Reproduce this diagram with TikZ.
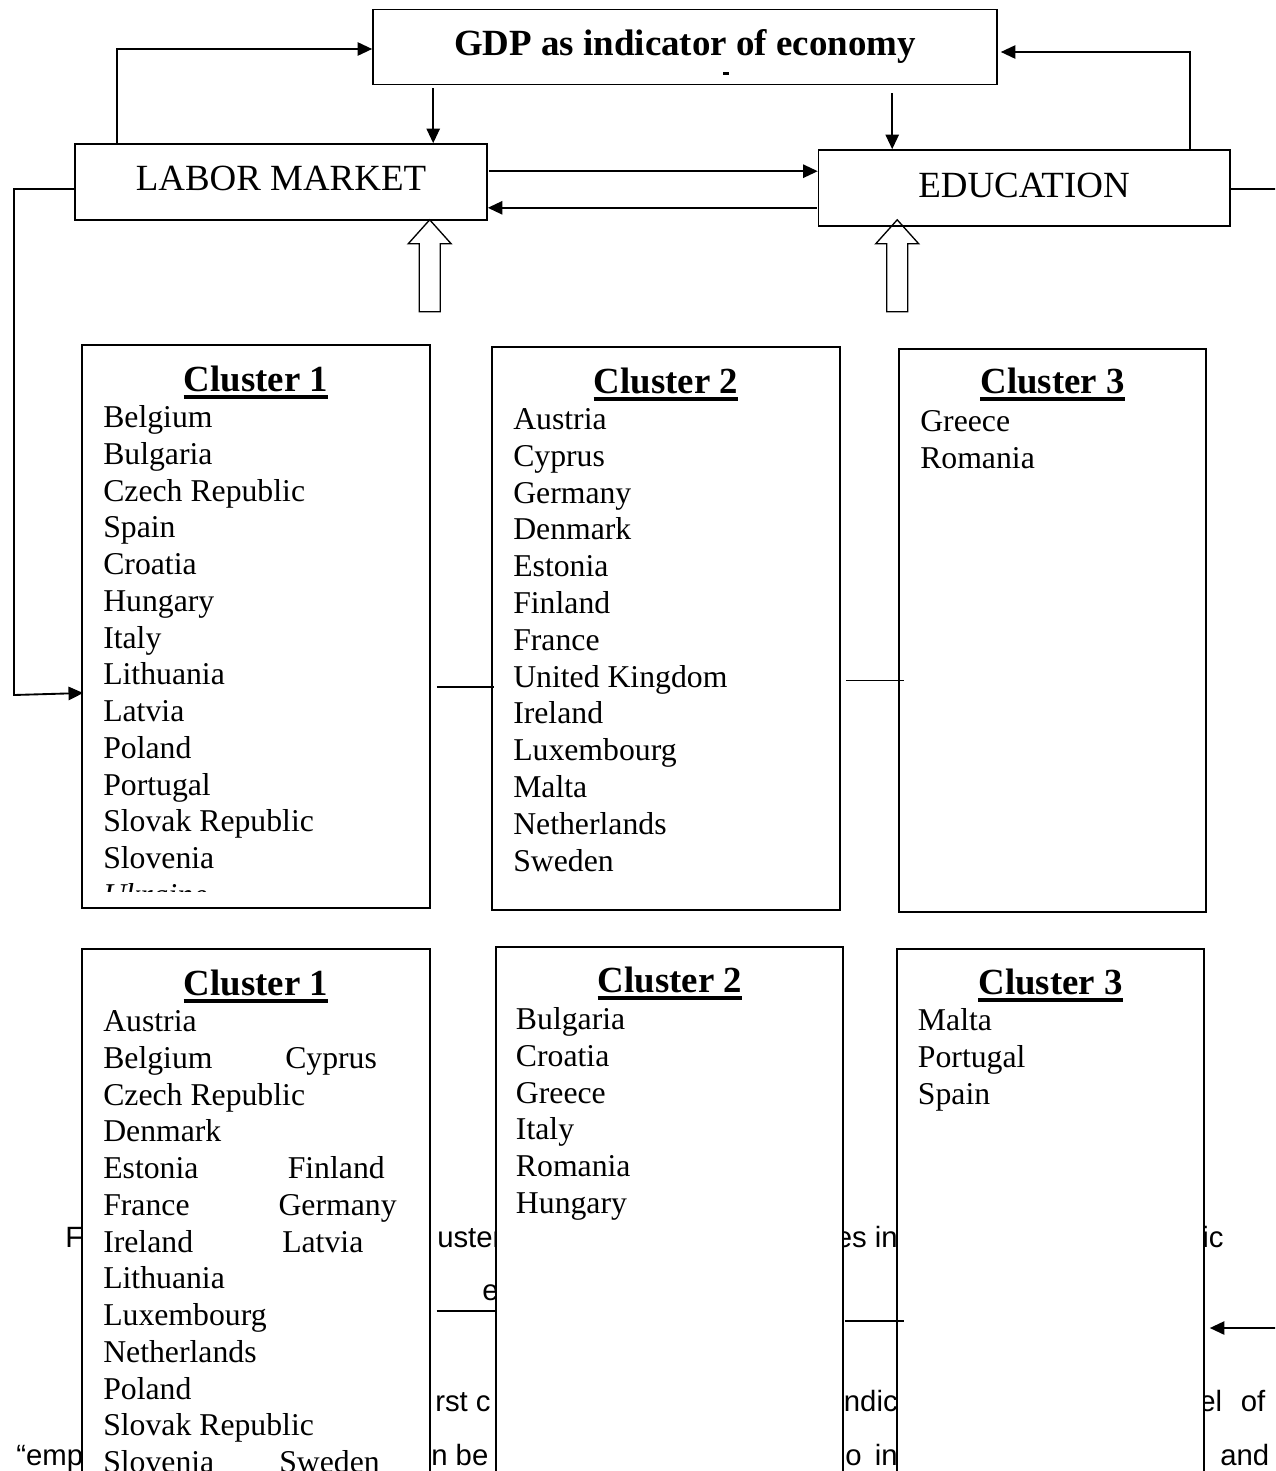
\documentclass[tikz,border=0pt]{standalone}
\usepackage{fontspec}
\setmainfont{Liberation Serif}
\newfontfamily\bodysans{Liberation Sans}
\usetikzlibrary{arrows.meta,calc}
\begin{document}
\begin{tikzpicture}[x=0.75pt,y=-0.75pt,
  boxframe/.style={draw,line width=1.2pt,fill=white,inner sep=0pt},
  conn/.style={line width=1.4pt},
  arr/.style={conn,-{Triangle[length=11pt,width=10pt]}},
  item/.style={anchor=base west,inner sep=0pt,font=\fontsize{23.8}{28}\selectfont},
  ctitle/.style={anchor=base,inner sep=0pt,font=\fontsize{27.6}{32}\selectfont\bfseries},
  boxtext/.style={anchor=base,inner sep=0pt,font=\fontsize{27.7}{32}\selectfont},
  frag/.style={inner sep=0pt,font=\bodysans\fontsize{22}{26}\selectfont},
  uline/.style={line width=2.5pt},
  hollow/.style={draw,line width=1pt,line join=miter}]
\useasboundingbox (0,0) rectangle (1275,1471);
\clip (0,0) rectangle (1275,1471);

% background paragraph fragments (partly covered by the boxes)
\node[frag,anchor=base west] (f1) at (65,1247) {F};
\node[frag,anchor=base west] (f2) at (437,1247) {uster};
\node[frag,anchor=base east] (f3) at (898,1247) {es in};
\node[frag,anchor=base west] (f4) at (1202,1247) {ic};
\node[frag,anchor=base west] (f5) at (482,1300) {e};
\node[frag,anchor=base west] (f6) at (435,1411) {rst c};
\node[frag,anchor=base east] (f7) at (898,1411) {ndic};
\node[frag,anchor=base west] (f8) at (1199,1411) {el\hspace{14pt}of};
\node[frag,anchor=base west] (f9) at (16,1465) {“emp};
\node[frag,anchor=base west] (f10) at (431,1465) {n be};
\node[frag,anchor=base east] (f11) at (898,1465) {o\hspace{10pt}in};
\node[frag,anchor=base west] (f12) at (1220,1465) {and};

% top boxes
\node[boxframe,minimum width=468pt,minimum height=56.25pt] (gdp) at (685,47) {};
\node[boxframe,minimum width=309pt,minimum height=57pt] (lab) at (281,182) {};
\node[boxframe,minimum width=308.6pt,minimum height=57pt] (edu) at (1024.25,188) {};
\node[boxtext,font=\fontsize{27.7}{32}\selectfont\bfseries] (gdptxt) at (685,55) {GDP as indicator of economy};
\node[boxtext] (labtxt) at (281,190) {LABOR MARKET};
\node[boxtext] (edutxt) at (1024,197) {EDUCATION};
\fill (723,72) rectangle (729,75);

% cluster boxes
\node[boxframe,minimum width=261pt,minimum height=422.25pt] (c1a) at (256,626.5) {};
\node[boxframe,minimum width=261pt,minimum height=422.25pt] (c2a) at (666,628.5) {};
\node[boxframe,minimum width=230.25pt,minimum height=422.25pt] (c3a) at (1052.5,630.5) {};
\node[boxframe,minimum width=261pt,minimum height=428.25pt] (c1b) at (256.25,1234.5) {};
\node[boxframe,minimum width=260.25pt,minimum height=429.75pt] (c2b) at (669.5,1233.5) {};
\node[boxframe,minimum width=230.25pt,minimum height=428.25pt] (c3b) at (1050.5,1234.5) {};

% titles
\node[ctitle] (c1at) at (256,391) {Cluster 1};
\node[ctitle] (c2at) at (666,393) {Cluster 2};
\node[ctitle] (c3at) at (1052.5,393) {Cluster 3};
\node[ctitle] (c1bt) at (256,995) {Cluster 1};
\node[ctitle] (c2bt) at (670,992) {Cluster 2};
\node[ctitle] (c3bt) at (1050.7,994) {Cluster 3};
\foreach \t in {c1at,c2at,c3at,c1bt,c2bt,c3bt}
  \draw[uline] ($(\t.base west)+(0,6)$) -- ($(\t.base east)+(0,6)$);

% top row lists
\foreach \n [count=\i from 0] in {Belgium,Bulgaria,Czech Republic,Spain,Croatia,Hungary,Italy,Lithuania,Latvia,Poland,Portugal,Slovak Republic,Slovenia}
  \node[item] (ia\i) at (103,{427.5+36.75*\i}) {\n};
\begin{scope}
  \clip (83,800) rectangle (429,891);
  \node[item] (iaU) at (103,905.5) {\itshape Ukraine};
\end{scope}
\foreach \n [count=\i from 0] in {Austria,Cyprus,Germany,Denmark,Estonia,Finland,France,United Kingdom,Ireland,Luxembourg,Malta,Netherlands,Sweden}
  \node[item] (ib\i) at (513,{429.5+36.8*\i}) {\n};
\node[item] (ic0) at (920,431) {Greece};
\node[item] (ic1) at (920,468.5) {Romania};

% bottom row lists
\foreach \n [count=\i from 0] in {Austria,Belgium,Czech Republic,Denmark,Estonia,France,Ireland,Lithuania,Luxembourg,Netherlands,Poland,Slovak Republic,Slovenia}
  \node[item] (ja\i) at (103,{1031.5+36.75*\i}) {\n};
\node[item] (jaR1) at (285,1068.25) {Cyprus};
\node[item] (jaR4) at (287.5,1178.5) {Finland};
\node[item] (jaR5) at (278.3,1215.25) {Germany};
\node[item] (jaR6) at (282,1252) {Latvia};
\node[item] (jaR12) at (279,1472.5) {Sweden};
\foreach \n [count=\i from 0] in {Bulgaria,Croatia,Greece,Italy,Romania,Hungary}
  \node[item] (jb\i) at (515.7,{1029.5+36.8*\i}) {\n};
\node[item] (jc0) at (917.7,1030.5) {Malta};
\node[item] (jc1) at (917.7,1067.5) {Portugal};
\node[item] (jc2) at (917.7,1104.5) {Spain};

% connectors between top boxes
\draw[arr] ($(lab.north west)+(43,0)$) |- ($(gdp.west)+(0,2)$);
\coordinate (g1) at ($(gdp.south west)+(61,3)$);
\draw[arr] (g1) -- (g1 |- lab.north);
\coordinate (g2) at ($(gdp.south west)+(520,8)$);
\draw[arr] (g2) -- (g2 |- edu.north);
\coordinate (l1) at ($(lab.north east)+(1.5,28)$);
\draw[arr] (l1) -- (l1 -| edu.west);
\coordinate (e1) at ($(edu.south west)+(-1,-19)$);
\draw[arr] (e1) -- (e1 -| lab.east);
\coordinate (e2) at ($(edu.north west)+(372,0)$);
\draw[arr] (e2) |- ($(gdp.east)+(3,5)$);
\coordinate (e3) at ($(edu.east)+(0,1)$);
\coordinate (rEdge) at (1285,189);
\draw[conn] (e3) -- (rEdge);
\coordinate (l2) at ($(lab.west)+(0,7)$);
\coordinate (lc1) at (14,189);
\coordinate (lc2) at (14,695);
\coordinate (c1in) at ($(c1a.west)+(2,66.5)$);
\draw[arr] (l2) -- (lc1) -- (lc2) -- (c1in);

% hollow block arrows
\coordinate (h1) at ($(lab.south west)+(355.5,-1)$);
\draw[hollow] (h1) -- ++(21.5,24) -- ++(-11,0) -- ++(0,68) -- ++(-21,0) -- ++(0,-68) -- ++(-11,0) -- cycle;
\coordinate (h2) at ($(edu.south west)+(79.5,-7)$);
\draw[hollow] (h2) -- ++(21.5,24) -- ++(-11,0) -- ++(0,68) -- ++(-21,0) -- ++(0,-68) -- ++(-11,0) -- cycle;

% lines between cluster boxes
\coordinate (t1) at ($(c1a.east)+(6,60.5)$);
\draw[conn] (t1) -- ($(t1 -| c2a.west)+(3,0)$);
\coordinate (t2) at ($(c2a.east)+(5,52)$);
\draw[conn] (t2) -- ($(t2 -| c3a.west)+(6,0)$);
\coordinate (b1) at ($(c1b.east)+(5.5,76.5)$);
\draw[conn] (b1) -- (b1 -| c2b.west);
\coordinate (b2) at ($(c2b.east)+(1.5,87.5)$);
\draw[conn] (b2) -- ($(b2 -| c3b.west)+(8,0)$);
\coordinate (rIn) at (1285,1328);
\draw[arr] (rIn) -- ($(c3b.east |- rIn)+(5,0)$);
\end{tikzpicture}
\end{document}
